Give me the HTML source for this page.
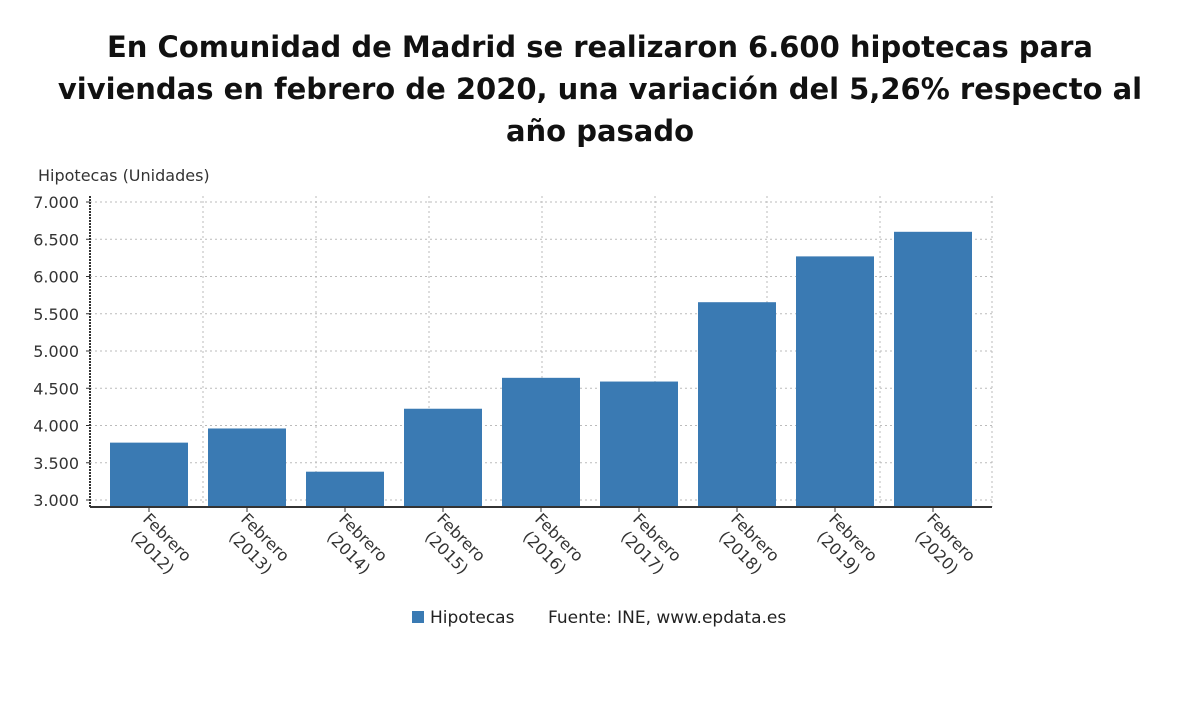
<!DOCTYPE html>
<html><head><meta charset="utf-8">
<style>
html,body{margin:0;padding:0;background:#fff;width:1200px;height:705px;overflow:hidden}
svg{display:block;font-family:"DejaVu Sans","Liberation Sans",sans-serif}
</style></head>
<body>
<svg id="chart" width="1200" height="705">
<text x="600" y="57" text-anchor="middle" font-size="29" font-weight="bold" fill="#111">En Comunidad de Madrid se realizaron 6.600 hipotecas para</text>
<text x="600" y="99" text-anchor="middle" font-size="29" font-weight="bold" fill="#111">viviendas en febrero de 2020, una variación del 5,26% respecto al</text>
<text x="600" y="141" text-anchor="middle" font-size="29" font-weight="bold" fill="#111">año pasado</text>
<text x="38" y="181" font-size="16" fill="#333">Hipotecas (Unidades)</text>
<g id="grid"></g><g id="bars"></g><g id="axes"></g>
<rect x="412" y="611" width="12" height="12" fill="#3a7ab3"/>
<text x="430" y="623" font-size="17" fill="#222">Hipotecas</text>
<text x="548" y="623" font-size="17" fill="#222">Fuente: INE, www.epdata.es</text>
</svg>
<script>
const categories=["Febrero (2012)","Febrero (2013)","Febrero (2014)","Febrero (2015)","Febrero (2016)","Febrero (2017)","Febrero (2018)","Febrero (2019)","Febrero (2020)"];
const values=[3770,3960,3380,4225,4640,4590,5655,6270,6600];
const yTicks=[3000,3500,4000,4500,5000,5500,6000,6500,7000];
const yTickLabels=["3.000","3.500","4.000","4.500","5.000","5.500","6.000","6.500","7.000"];
const NS="http://www.w3.org/2000/svg";
const L=90,R=992,T=196,B=507;
const y=v=>500-(v-3000)*(298/4000);
const step=98,x0=110,bw=78;
const x=i=>x0+i*step;
function mk(tag,attrs,parent){const e=document.createElementNS(NS,tag);for(const k in attrs)e.setAttribute(k,attrs[k]);parent.appendChild(e);return e;}
const grid=document.getElementById('grid'),bars=document.getElementById('bars'),axes=document.getElementById('axes');
yTicks.forEach((t,i)=>{
 const g=mk('line',{x1:L,x2:R,y1:y(t),y2:y(t),stroke:'#bbb','stroke-dasharray':'2,3'},grid);
 
 
 const tk=mk('line',{x1:L-4,x2:L,y1:y(t),y2:y(t),stroke:'#333'},axes);
 
 
 const lb=mk('text',{x:L-11,y:y(t)+6,'text-anchor':'end','font-size':16,fill:'#333'},axes);
 lb.textContent=yTickLabels[i];
 
 
});
[203,316,429,542,655,767,880,992].forEach(gx=>{
 const g=mk('line',{x1:gx,x2:gx,y1:T,y2:B,stroke:'#bbb','stroke-dasharray':'2,3'},grid);
 
 
});
values.forEach((v,i)=>{
 const r=mk('rect',{x:x(i),y:y(v),width:bw,height:B-y(v),fill:'#3a7ab3'},bars);
 
 
 const cx=x(i)+bw/2;
 const tk=mk('line',{x1:cx,x2:cx,y1:B,y2:B+5,stroke:'#333'},axes);
 
 
 const parts=categories[i].split(' ');
 const lb=mk('text',{transform:`translate(${cx-7},${B+13}) rotate(45)`,'font-size':16,fill:'#333'},axes);
 
 
 const a=mk('tspan',{x:0,y:0},lb);a.textContent=parts[0];
 const b=mk('tspan',{x:4,y:21},lb);b.textContent=parts[1];
});
const ya=mk('line',{x1:L,x2:L,y1:T,y2:B,stroke:'#333','stroke-width':2,'stroke-dasharray':'2,1'},axes);


const xa=mk('line',{x1:L,x2:R,y1:B,y2:B,stroke:'#333','stroke-width':2},axes);


</script>
</body></html>
